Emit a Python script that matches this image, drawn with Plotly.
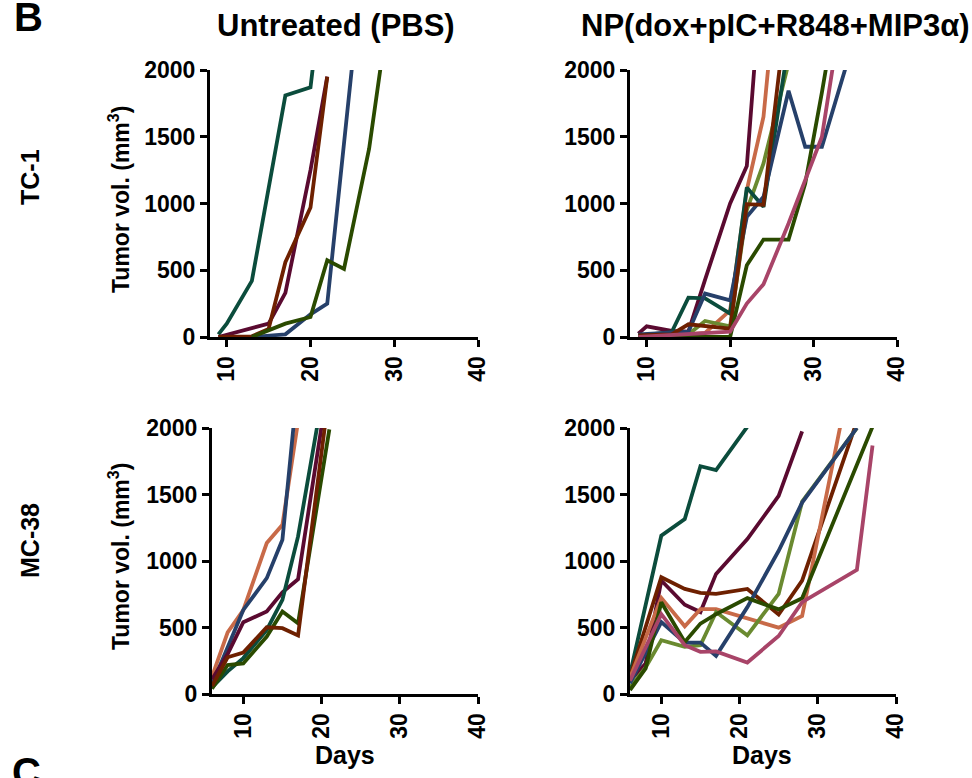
import plotly.graph_objects as go

# ---------------- data ----------------
# TC-1, Untreated (PBS)
tc1_pbs_days = [
    [9, 10, 13, 17, 20, 21],
    [9, 15, 17, 20, 22],
    [9, 13, 15, 17, 20, 22],
    [13, 17, 20, 22, 25],
    [13, 17, 20, 22, 24, 27, 29],
]
tc1_pbs_vols = [
    [20, 100, 420, 1810, 1870, 2400],
    [0, 100, 330, 1250, 1950],
    [0, 5, 60, 560, 970, 1950],
    [0, 20, 170, 250, 2050],
    [0, 100, 150, 575, 510, 1410, 2300],
]
tc1_pbs_colors = ["#0B4C3C", "#5A0A30", "#6E2000", "#26406A", "#2A4A00"]

# TC-1, NP(dox+pIC+R848+MIP3a)
tc1_np_days = [
    [9, 10, 13, 15, 17, 20, 22, 23],
    [9, 13, 17, 20, 22, 24, 25],
    [9, 15, 17, 20, 22, 24, 27],
    [9, 13, 15, 17, 20, 22, 24, 27],
    [9, 13, 15, 17, 20, 22, 24, 27, 29, 31, 34],
    [9, 13, 15, 20, 22, 24, 26],
    [9, 20, 22, 24, 27, 29, 31, 32],
    [9, 20, 22, 24, 27, 29, 31, 33],
]
tc1_np_vols = [
    [25, 80, 45, 40, 430, 1000, 1280, 2100],
    [0, 10, 30, 200, 1100, 1650, 2300],
    [0, 20, 120, 80, 950, 1300, 2050],
    [10, 37, 295, 290, 175, 1120, 975, 2200],
    [20, 30, 40, 325, 275, 900, 1050, 1845, 1425, 1425, 2050],
    [12, 20, 95, 62, 995, 990, 2050],
    [0, 0, 537, 730, 730, 1150, 1832, 2200],
    [0, 40, 250, 395, 850, 1180, 1500, 2300],
]
tc1_np_colors = ["#5A0A30", "#C86A48", "#6A8A30", "#0B4C3C", "#26406A",
                 "#6E2000", "#2A4A00", "#A84468"]

# MC-38, Untreated (PBS)
mc38_pbs_days = [
    [6, 8, 10, 13, 15, 17],
    [6, 10, 13, 15, 17],
    [6, 8, 10, 13, 15, 17, 20],
    [6, 8, 10, 13, 15, 17, 20],
    [6, 8, 10, 13, 15, 17, 21],
    [6, 8, 10, 13, 15, 17, 21],
]
mc38_pbs_vols = [
    [130, 464, 630, 1135, 1272, 2050],
    [70, 632, 871, 1160, 2360],
    [110, 300, 540, 620, 765, 863, 2010],
    [50, 170, 270, 482, 708, 1185, 2200],
    [40, 218, 230, 432, 620, 532, 1990],
    [60, 276, 311, 502, 495, 440, 2275],
]
mc38_pbs_colors = ["#C86A48", "#26406A", "#5A0A30", "#0B4C3C", "#2A4A00", "#6E2000"]

# MC-38, NP(dox+pIC+R848+MIP3a)
mc38_np_days = [
    [6, 10, 13, 15, 17, 21],
    [6, 8, 10, 13, 15, 17, 21, 25, 28],
    [6, 10, 13, 15, 17, 21, 25, 28, 35],
    [6, 10, 13, 15, 17, 21, 25, 28, 33],
    [6, 8, 10, 13, 15, 17, 21, 25, 28, 35],
    [6, 10, 13, 15, 17, 21, 25, 28, 35],
    [6, 8, 10, 13, 15, 17, 21, 25, 28, 37],
    [6, 10, 13, 15, 17, 21, 25, 28, 35, 37],
]
mc38_np_vols = [
    [150, 1190, 1315, 1713, 1683, 2010],
    [100, 230, 853, 671, 616, 903, 1165, 1489, 1975],
    [130, 878, 790, 760, 753, 790, 598, 853, 2050],
    [120, 723, 509, 638, 638, 566, 499, 586, 2050],
    [50, 200, 404, 354, 367, 616, 441, 753, 1446, 2000],
    [80, 541, 387, 387, 287, 653, 1077, 1439, 2000],
    [30, 192, 690, 391, 529, 600, 721, 636, 720, 2010],
    [100, 600, 367, 317, 320, 237, 436, 691, 933, 1868],
]
mc38_np_colors = ["#0B4C3C", "#5A0A30", "#6E2000", "#C86A48", "#6A8A30",
                  "#26406A", "#2A4A00", "#A84468"]

x_ticks = [10, 20, 30, 40]
y_ticks = [0, 500, 1000, 1500, 2000]
col_titles = ["Untreated (PBS)", "NP(dox+pIC+R848+MIP3α)"]
row_titles = ["TC-1", "MC-38"]

# ---------------- figure ----------------
W, H = 972, 778
FONT = "Liberation Sans, Arial, sans-serif"


def px(x):
    return x / W


def py(y):
    return 1 - y / H


fig = go.Figure()

panels = [
    (tc1_pbs_days, tc1_pbs_vols, tc1_pbs_colors, "x", "y"),
    (tc1_np_days, tc1_np_vols, tc1_np_colors, "x2", "y2"),
    (mc38_pbs_days, mc38_pbs_vols, mc38_pbs_colors, "x3", "y3"),
    (mc38_np_days, mc38_np_vols, mc38_np_colors, "x4", "y4"),
]
for days, vols, colors, xa, ya in panels:
    for d, v, c in zip(days, vols, colors):
        fig.add_trace(go.Scatter(x=d, y=v, mode="lines", xaxis=xa, yaxis=ya,
                                 line=dict(color=c, width=3.8),
                                 showlegend=False, hoverinfo="skip"))

# panel pixel boxes: (left, right, top, bottom), x range start
boxes = [
    (210, 478, 70, 337, 8),
    (630, 897, 70, 337, 8),
    (212, 478, 428, 694, 6),
    (630, 896, 428, 694, 6),
]
tickfont = dict(family=FONT, size=23, color="black", weight="bold")
layout = {}
for i, (l, r, t, b, x0) in enumerate(boxes):
    sfx = "" if i == 0 else str(i + 1)
    layout["xaxis" + sfx] = dict(
        domain=[px(l), px(r)], anchor="y" + sfx, range=[x0, 40],
        tickvals=x_ticks, tickangle=-90, ticks="outside", ticklen=7,
        tickwidth=3, tickcolor="black", showline=True, linewidth=3,
        linecolor="black", showgrid=False, zeroline=False, tickfont=tickfont)
    layout["yaxis" + sfx] = dict(
        domain=[py(b), py(t)], anchor="x" + sfx, range=[0, 2000],
        tickvals=y_ticks, ticks="outside", ticklen=7, tickwidth=3,
        tickcolor="black", showline=True, linewidth=3, linecolor="black",
        showgrid=False, zeroline=False, tickfont=tickfont)

ann = []


def add_text(text, x, y, size, angle=0):
    ann.append(dict(text=text, x=px(x), y=py(y), xref="paper", yref="paper",
                    showarrow=False, textangle=angle, xanchor="center",
                    yanchor="middle",
                    font=dict(family=FONT, size=size, color="black", weight="bold")))


add_text("B", 28, 17, 40)
add_text("C", 26, 772, 40)
add_text(col_titles[0], 336, 25, 31)
add_text(col_titles[1], 775, 25, 31)
add_text(row_titles[0], 30, 177, 25, -90)
add_text(row_titles[1], 30, 541, 25, -90)
add_text("Tumor vol. (mm<sup>3</sup>)", 119, 200, 23, -90)
add_text("Tumor vol. (mm<sup>3</sup>)", 119, 557, 23, -90)
add_text("Days", 345, 755, 25)
add_text("Days", 762, 755, 25)

fig.update_layout(width=W, height=H,
                  margin=dict(l=0, r=0, t=0, b=0, autoexpand=False),
                  paper_bgcolor="white", plot_bgcolor="white",
                  annotations=ann, **layout)

fig.write_html("out.html", config={"displayModeBar": False},
               post_script="document.body.style.margin='0px';"
                           "document.body.style.overflow='hidden';")
